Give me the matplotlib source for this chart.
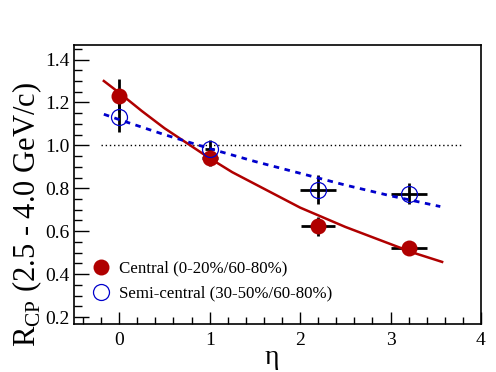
import numpy as np
import matplotlib.pyplot as plt
from matplotlib.ticker import MultipleLocator

plt.rcParams['font.family'] = ['Liberation Serif', 'DejaVu Serif']
plt.rcParams['mathtext.fontset'] = 'custom'
plt.rcParams['mathtext.rm'] = 'Liberation Serif'

# Central (0-20%/60-80%)
eta_c = [0.0, 1.0, 2.2, 3.2]
rcp_c = [1.232, 0.940, 0.623, 0.524]
yerr_c = [0.075, 0.037, 0.045, 0.030]
xerr_c = [0.0, 0.09, 0.19, 0.20]

# Semi-central (30-50%/60-80%)
eta_s = [0.0, 1.0, 2.2, 3.2]
rcp_s = [1.132, 0.985, 0.794, 0.775]
yerr_s = [0.070, 0.040, 0.066, 0.050]
xerr_s = [0.0, 0.05, 0.20, 0.20]

# fitted curves
fit_x_c = [-0.17, 0.0, 0.25, 0.5, 0.75, 1.0, 1.25, 1.5, 1.75, 2.0, 2.25, 2.5, 2.75, 3.0, 3.25, 3.57]
fit_y_c = [1.30, 1.245, 1.16, 1.08, 1.01, 0.94, 0.875, 0.82, 0.765, 0.71, 0.665, 0.62, 0.58, 0.54, 0.50, 0.457]
fit_x_s = [-0.17, 0.0, 0.5, 1.0, 1.5, 2.0, 2.5, 3.0, 3.55]
fit_y_s = [1.145, 1.12, 1.05, 0.985, 0.925, 0.87, 0.815, 0.765, 0.715]

red = '#b00000'
blue = '#0000cc'

fig = plt.figure(figsize=(4.96, 3.72), dpi=100)
ax = fig.add_axes([74 / 496, 1 - 323.5 / 372, 407 / 496, 279 / 372])

ax.plot([-0.2, 3.8], [1.0, 1.0], color='black', linestyle=(0, (1, 2)), linewidth=1.0)

ax.errorbar(eta_c, rcp_c, yerr=yerr_c, xerr=xerr_c, fmt='none', ecolor='black', elinewidth=2, capsize=0)
ax.errorbar(eta_s, rcp_s, yerr=yerr_s, xerr=xerr_s, fmt='none', ecolor='black', elinewidth=2, capsize=0)

ax.plot(fit_x_c, fit_y_c, color=red, linewidth=1.8)
ax.plot(fit_x_s, fit_y_s, color=blue, linewidth=2, linestyle=(0, (2, 2)))

ax.plot(eta_c, rcp_c, 'o', color=red, markersize=11.5, markeredgewidth=0, label='Central (0-20%/60-80%)')
ax.plot(eta_s, rcp_s, 'o', markerfacecolor='none', markeredgecolor=blue, markeredgewidth=0.9,
        markersize=11.5, label='Semi-central (30-50%/60-80%)')

ax.set_xlim(-0.5, 4.0)
ax.set_ylim(0.17, 1.47)
ax.xaxis.set_major_locator(MultipleLocator(1))
ax.xaxis.set_minor_locator(MultipleLocator(0.2))
ax.yaxis.set_major_locator(MultipleLocator(0.2))
ax.yaxis.set_minor_locator(MultipleLocator(0.05))
ax.tick_params(which='both', direction='in', top=False, right=False, labelsize=14)
ax.tick_params(axis='y', which='major', length=11, width=1, pad=3)
ax.tick_params(axis='y', which='minor', length=6, width=1)
ax.tick_params(axis='x', which='major', length=9, width=1)
ax.tick_params(axis='x', which='minor', length=5, width=1)
ax.tick_params(axis='x', pad=6)
for s in ax.spines.values():
    s.set_linewidth(1.2)

ax.set_xlabel(r'$\mathregular{\eta}$', fontsize=20)
ax.xaxis.set_label_coords((272 - 74) / 407, -0.085)
fig.text(27 / 496, 1 - 214 / 372, r'R$_{\mathregular{CP}}$ (2.5 - 4.0 GeV/c)', rotation=90,
         fontsize=22, ha='center', va='center')

ax.legend(loc='lower left', bbox_to_anchor=(0.004, 0.035), frameon=False, fontsize=12.2,
          handletextpad=0.25, labelspacing=0.55, borderaxespad=0.3, handlelength=1.6)

fig.savefig('out.png', dpi=100)
